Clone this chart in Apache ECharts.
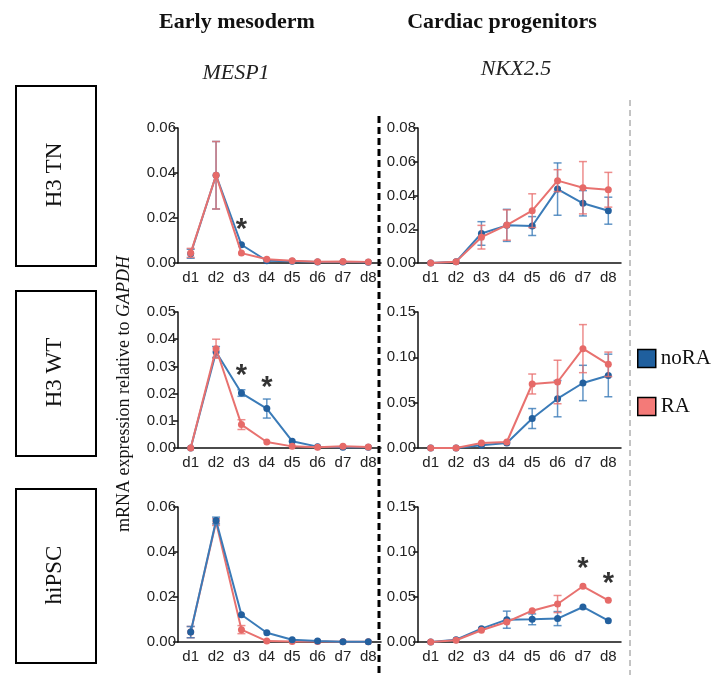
<!DOCTYPE html>
<html>
<head>
    <meta charset="utf-8">
    <title>MESP1 / NKX2.5</title>
    <script src="https://cdn.jsdelivr.net/npm/echarts@6/dist/echarts.min.js"></script>
    <style>
        html, body { margin: 0; padding: 0; background: #fff; }
        #main { width: 714px; height: 675px; }
    </style>
</head>
<body>
    <div id="main"></div>
    <script type="text/javascript">
        var days = ['d1', 'd2', 'd3', 'd4', 'd5', 'd6', 'd7', 'd8'];

        // H3 TN - MESP1
        var tnMespNoRA = [0.0041, 0.039, 0.0081, 0.0010, 0.0008, 0.0005, 0.0005, 0.0003];
        var tnMespNoRAErr = [0.002, 0.015, 0.0005, 0.0003, 0.0002, 0.0001, 0.0001, 0.0001];
        var tnMespRA = [0.0045, 0.039, 0.0044, 0.0017, 0.0010, 0.0006, 0.0007, 0.0005];
        var tnMespRAErr = [0.002, 0.015, 0.0005, 0.0003, 0.0002, 0.0001, 0.0001, 0.0001];
        var tnMespStars = [[2, 0.0176]];

        // H3 TN - NKX2.5
        var tnNkxNoRA = [0, 0.0008, 0.0175, 0.0223, 0.0219, 0.0438, 0.0354, 0.031];
        var tnNkxNoRAErr = [0, 0.0003, 0.007, 0.0095, 0.0056, 0.0155, 0.0075, 0.008];
        var tnNkxRA = [0, 0.0008, 0.0153, 0.0225, 0.031, 0.0488, 0.0446, 0.0434];
        var tnNkxRAErr = [0, 0.0003, 0.007, 0.009, 0.010, 0.0065, 0.0155, 0.0103];

        // H3 WT - MESP1
        var wtMespNoRA = [0, 0.0353, 0.0202, 0.0145, 0.0025, 0.0005, 0.0003, 0.0003];
        var wtMespNoRAErr = [0, 0.002, 0.0012, 0.0035, 0.0003, 0.0001, 0.0001, 0.0001];
        var wtMespRA = [0, 0.0365, 0.0086, 0.0022, 0.0006, 0.0003, 0.0006, 0.0004];
        var wtMespRAErr = [0, 0.0035, 0.0018, 0.0003, 0.0002, 0.0001, 0.0001, 0.0001];
        var wtMespStars = [[2, 0.029], [3, 0.0245]];

        // H3 WT - NKX2.5
        var wtNkxNoRA = [0, 0, 0.003, 0.0055, 0.0325, 0.0544, 0.0717, 0.080];
        var wtNkxNoRAErr = [0, 0, 0.001, 0.001, 0.011, 0.020, 0.0195, 0.0235];
        var wtNkxRA = [0, 0, 0.0055, 0.0066, 0.0706, 0.0728, 0.1096, 0.0923];
        var wtNkxRAErr = [0, 0, 0.002, 0.001, 0.011, 0.024, 0.0265, 0.0135];

        // hiPSC - MESP1
        var ipsMespNoRA = [0.0044, 0.054, 0.0121, 0.0041, 0.001, 0.0004, 0.0001, 0.0001];
        var ipsMespNoRAErr = [0.0025, 0.0015, 0.0005, 0.0012, 0.0003, 0.0001, 0, 0];
        var ipsMespRA = [0.0044, 0.0533, 0.0055, 0.0004, 0.0002, 0.0002, 0.0001, 0.0001];
        var ipsMespRAErr = [0.0025, 0.0015, 0.0018, 0.0002, 0.0001, 0.0001, 0, 0];

        // hiPSC - NKX2.5
        var ipsNkxNoRA = [0, 0.0026, 0.0148, 0.0248, 0.0252, 0.026, 0.0389, 0.0237];
        var ipsNkxNoRAErr = [0, 0.0005, 0.002, 0.0095, 0.006, 0.0078, 0.002, 0.001];
        var ipsNkxRA = [0, 0.002, 0.013, 0.0222, 0.0348, 0.0422, 0.0619, 0.0463];
        var ipsNkxRAErr = [0, 0.0005, 0.001, 0.002, 0.002, 0.0095, 0.002, 0.002];
        var ipsNkxStars = [[6, 0.089], [7, 0.072]];

        var yMax = [0.06, 0.08, 0.05, 0.15, 0.06, 0.15];
        var yStep = [0.02, 0.02, 0.01, 0.05, 0.02, 0.05];

        var panels = [
            { noRA: tnMespNoRA, noRAErr: tnMespNoRAErr, ra: tnMespRA, raErr: tnMespRAErr, stars: tnMespStars, blueTop: false },
            { noRA: tnNkxNoRA, noRAErr: tnNkxNoRAErr, ra: tnNkxRA, raErr: tnNkxRAErr, stars: [], blueTop: false },
            { noRA: wtMespNoRA, noRAErr: wtMespNoRAErr, ra: wtMespRA, raErr: wtMespRAErr, stars: wtMespStars, blueTop: false },
            { noRA: wtNkxNoRA, noRAErr: wtNkxNoRAErr, ra: wtNkxRA, raErr: wtNkxRAErr, stars: [], blueTop: false },
            { noRA: ipsMespNoRA, noRAErr: ipsMespNoRAErr, ra: ipsMespRA, raErr: ipsMespRAErr, stars: [], blueTop: true },
            { noRA: ipsNkxNoRA, noRAErr: ipsNkxNoRAErr, ra: ipsNkxRA, raErr: ipsNkxRAErr, stars: ipsNkxStars, blueTop: false }
        ];

        var blueLine = '#3a7bb8';
        var blueDot = '#23609e';
        var redLine = '#e8716f';
        var redDot = '#e66a68';
        var serif = '"Liberation Serif", "DejaVu Serif", serif';
        var sans = '"Liberation Sans", Arial, sans-serif';

        // grid placement (left column / right column, three rows)
        var colLeft = [178, 418];
        var rowTop = [128, 312, 507];
        var rowHeight = [135, 136, 135];

        var grids = [], xAxes = [], yAxes = [], series = [];

        function errorBars(idx, mean, err, color, z) {
            var data = mean.map(function (m, i) { return [i, m - err[i], m + err[i]]; });
            return {
                type: 'custom',
                name: color === blueLine ? 'noRA' : 'RA',
                xAxisIndex: idx,
                yAxisIndex: idx,
                z: z,
                silent: true,
                data: data,
                renderItem: function (params, api) {
                    var lo = api.coord([api.value(0), api.value(1)]);
                    var hi = api.coord([api.value(0), api.value(2)]);
                    if (Math.abs(hi[1] - lo[1]) < 6) return null;
                    var w = 4;
                    var st = { stroke: color, lineWidth: 1.5, opacity: 0.8 };
                    return {
                        type: 'group',
                        children: [
                            { type: 'line', shape: { x1: hi[0], y1: hi[1], x2: lo[0], y2: lo[1] }, style: st },
                            { type: 'line', shape: { x1: hi[0] - w, y1: hi[1], x2: hi[0] + w, y2: hi[1] }, style: st },
                            { type: 'line', shape: { x1: lo[0] - w, y1: lo[1], x2: lo[0] + w, y2: lo[1] }, style: st }
                        ]
                    };
                }
            };
        }

        panels.forEach(function (p, idx) {
            var col = idx % 2, row = Math.floor(idx / 2);
            grids.push({ left: colLeft[col], top: rowTop[row], width: 203, height: rowHeight[row] });
            xAxes.push({
                type: 'category', gridIndex: idx, data: days, boundaryGap: true,
                axisLine: { lineStyle: { color: '#111', width: 1.5 } },
                axisTick: { show: false },
                axisLabel: { color: '#222', fontSize: 15, fontFamily: sans, margin: 7, interval: 0 }
            });
            yAxes.push({
                type: 'value', gridIndex: idx, min: 0, max: yMax[idx], interval: yStep[idx],
                axisLine: { show: true, lineStyle: { color: '#111', width: 1.5 } },
                axisTick: { show: true, length: 5, lineStyle: { color: '#111', width: 1.5 } },
                splitLine: { show: false },
                axisLabel: {
                    color: '#222', fontSize: 15, fontFamily: sans, margin: 2,
                    formatter: function (v) { return v.toFixed(2); }
                }
            });
            var zBlue = p.blueTop ? 4 : 2;
            var zRed = p.blueTop ? 2 : 4;
            series.push(errorBars(idx, p.noRA, p.noRAErr, blueLine, zBlue - 1));
            series.push(errorBars(idx, p.ra, p.raErr, redLine, zRed - 1));
            series.push({
                name: 'noRA', type: 'line', xAxisIndex: idx, yAxisIndex: idx, z: zBlue,
                data: p.noRA, symbol: 'circle', symbolSize: 7,
                lineStyle: { color: blueLine, width: 2 },
                itemStyle: { color: blueDot },
                animation: false
            });
            series.push({
                name: 'RA', type: 'line', xAxisIndex: idx, yAxisIndex: idx, z: zRed,
                data: p.ra, symbol: 'circle', symbolSize: 7,
                lineStyle: { color: redLine, width: 2 },
                itemStyle: { color: redDot },
                animation: false
            });
            if (p.stars.length) {
                series.push({
                    type: 'scatter', xAxisIndex: idx, yAxisIndex: idx, z: 6,
                    data: p.stars, symbolSize: 0, silent: true,
                    label: {
                        show: true, position: 'inside', formatter: '*',
                        color: '#000', fontSize: 29, fontWeight: 'bold', fontFamily: sans,
                        offset: [0, 7]
                    }
                });
            }
        });

        var rowNames = ['H3 TN', 'H3 WT', 'hiPSC'];
        var boxes = [[85, 265], [290, 455], [488, 662]];
        var graphics = [];
        boxes.forEach(function (b, i) {
            graphics.push({
                type: 'rect', left: 15, top: b[0],
                shape: { width: 80, height: b[1] - b[0] },
                style: { fill: '#fff', stroke: '#000', lineWidth: 2 }
            });
            graphics.push({
                type: 'text', x: 55, y: (b[0] + b[1]) / 2, rotation: Math.PI / 2,
                style: {
                    text: rowNames[i], font: '23px ' + serif, fill: '#111',
                    align: 'center', verticalAlign: 'middle'
                }
            });
        });
        graphics.push({
            type: 'text', x: 237, y: 22,
            style: { text: 'Early mesoderm', font: 'bold 22px ' + serif, fill: '#111', align: 'center', verticalAlign: 'middle' }
        });
        graphics.push({
            type: 'text', x: 502, y: 22,
            style: { text: 'Cardiac progenitors', font: 'bold 22px ' + serif, fill: '#111', align: 'center', verticalAlign: 'middle' }
        });
        graphics.push({
            type: 'text', x: 236, y: 73,
            style: { text: 'MESP1', font: 'italic 22px ' + serif, fill: '#222', align: 'center', verticalAlign: 'middle' }
        });
        graphics.push({
            type: 'text', x: 516, y: 69,
            style: { text: 'NKX2.5', font: 'italic 22px ' + serif, fill: '#222', align: 'center', verticalAlign: 'middle' }
        });
        graphics.push({
            type: 'text', x: 124, y: 394, rotation: Math.PI / 2,
            style: {
                text: '{a|mRNA expression relative to }{b|GAPDH}',
                align: 'center', verticalAlign: 'middle',
                rich: {
                    a: { font: '18px ' + serif, fill: '#111' },
                    b: { font: 'italic 18px ' + serif, fill: '#111' }
                }
            }
        });
        graphics.push({
            type: 'line', shape: { x1: 379, y1: 116, x2: 379, y2: 675 },
            style: { stroke: '#000', lineWidth: 3, lineDash: [7, 4] }
        });
        graphics.push({
            type: 'line', shape: { x1: 630, y1: 100, x2: 630, y2: 675 },
            style: { stroke: '#888', lineWidth: 1, lineDash: [6, 4] }
        });

        var myChart = echarts.init(document.getElementById('main'));
        var option = {
            backgroundColor: '#fff',
            animation: false,
            grid: grids,
            xAxis: xAxes,
            yAxis: yAxes,
            legend: {
                left: 632, top: 343, orient: 'vertical', itemGap: 27,
                itemWidth: 18, itemHeight: 18,
                textStyle: { fontFamily: serif, fontSize: 21, color: '#111' },
                data: [
                    { name: 'noRA', icon: 'rect', itemStyle: { color: '#1f5f9e', borderColor: '#000', borderWidth: 1.5 } },
                    { name: 'RA', icon: 'rect', itemStyle: { color: '#f47a78', borderColor: '#000', borderWidth: 1.5 } }
                ]
            },
            graphic: graphics,
            series: series
        };
        myChart.setOption(option);
    </script>
</body>
</html>
